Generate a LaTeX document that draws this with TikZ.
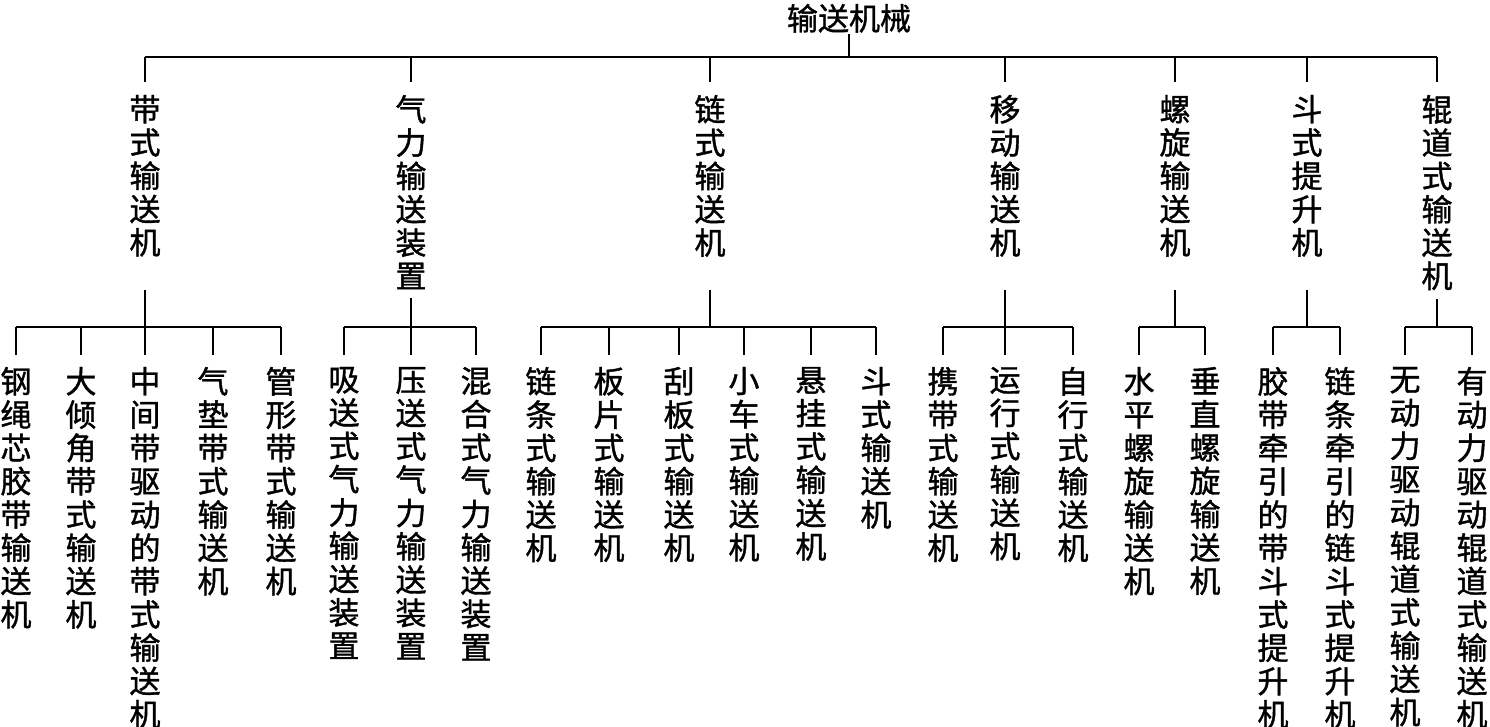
\documentclass[tikz,border=0pt]{standalone}
\usepackage{fontspec}
\newfontfamily\cjk[FakeBold=1.2]{Noto Sans CJK SC}
\usetikzlibrary{positioning}

\begin{document}
\begin{tikzpicture}[x=0.5pt, y=-0.5pt, line width=1pt,
    every node/.style={inner sep=0pt, align=center, font=\cjk\fontsize{15.5pt}{16.65pt}\selectfont},
    catnode/.style={anchor=north},
    subnode/.style={anchor=north}]
  \useasboundingbox (0,0) rectangle (1490,727);

  % root
  \node[anchor=north] (root) at (849,3) {输送机械};

  \coordinate (bus) at (0,57);
  \coordinate (stemtop) at (0,290);
  \coordinate (subbar) at (0,327);

  % main groups
  \node[catnode] (c1) at (145,94) {带\\式\\输\\送\\机};
  \node[catnode] (c2) at (411,94) {气\\力\\输\\送\\装\\置};
  \node[catnode] (c3) at (710,94) {链\\式\\输\\送\\机};
  \node[catnode] (c4) at (1005,94) {移\\动\\输\\送\\机};
  \node[catnode] (c5) at (1175,94) {螺\\旋\\输\\送\\机};
  \node[catnode] (c6) at (1307,94) {斗\\式\\提\\升\\机};
  \node[catnode] (c7) at (1437,94) {辊\\道\\式\\输\\送\\机};

  % belt
  \node[subnode] (s11) at (16,366) {钢\\绳\\芯\\胶\\带\\输\\送\\机};
  \node[subnode] (s12) at (81,366) {大\\倾\\角\\带\\式\\输\\送\\机};
  \node[subnode] (s13) at (145,366) {中\\间\\带\\驱\\动\\的\\带\\式\\输\\送\\机};
  \node[subnode] (s14) at (213,366) {气\\垫\\带\\式\\输\\送\\机};
  \node[subnode] (s15) at (281,366) {管\\形\\带\\式\\输\\送\\机};

  % pneumatic
  \node[subnode] (s21) at (344,366) {吸\\送\\式\\气\\力\\输\\送\\装\\置};
  \node[subnode] (s22) at (411,366) {压\\送\\式\\气\\力\\输\\送\\装\\置};
  \node[subnode] (s23) at (476,366) {混\\合\\式\\气\\力\\输\\送\\装\\置};

  % chain
  \node[subnode] (s31) at (541,366) {链\\条\\式\\输\\送\\机};
  \node[subnode] (s32) at (609,366) {板\\片\\式\\输\\送\\机};
  \node[subnode] (s33) at (679,366) {刮\\板\\式\\输\\送\\机};
  \node[subnode] (s34) at (744,366) {小\\车\\式\\输\\送\\机};
  \node[subnode] (s35) at (811,366) {悬\\挂\\式\\输\\送\\机};
  \node[subnode] (s36) at (876,366) {斗\\式\\输\\送\\机};

  % mobile
  \node[subnode] (s41) at (943,366) {携\\带\\式\\输\\送\\机};
  \node[subnode] (s42) at (1005,366) {运\\行\\式\\输\\送\\机};
  \node[subnode] (s43) at (1073,366) {自\\行\\式\\输\\送\\机};

  % screw
  \node[subnode] (s51) at (1139,366) {水\\平\\螺\\旋\\输\\送\\机};
  \node[subnode] (s52) at (1205,366) {垂\\直\\螺\\旋\\输\\送\\机};

  % bucket elevator
  \node[subnode] (s61) at (1273,366) {胶\\带\\牵\\引\\的\\带\\斗\\式\\提\\升\\机};
  \node[subnode] (s62) at (1340,366) {链\\条\\牵\\引\\的\\链\\斗\\式\\提\\升\\机};

  % roller
  \node[subnode] (s71) at (1405,366) {无\\动\\力\\驱\\动\\辊\\道\\式\\输\\送\\机};
  \node[subnode] (s72) at (1472,366) {有\\动\\力\\驱\\动\\辊\\道\\式\\输\\送\\机};

  % upper level
  \draw (root.south) -- (root |- bus);
  \draw (c1 |- bus) -- (c7 |- bus);
  \foreach \c in {c1,c2,c3,c4,c5,c6,c7}
    \draw (\c |- bus) -- ([yshift=6pt]\c.north);

  % lower level
  \foreach \c in {c1,c3,c4,c5,c6}
    \draw (\c |- stemtop) -- (\c |- subbar);
  \foreach \c in {c2,c7}
    \draw ([yshift=-4pt]\c.south) -- (\c |- subbar);

  \draw (s11 |- subbar) -- (s15 |- subbar);
  \draw (s21 |- subbar) -- (s23 |- subbar);
  \draw (s31 |- subbar) -- (s36 |- subbar);
  \draw (s41 |- subbar) -- (s43 |- subbar);
  \draw (s51 |- subbar) -- (s52 |- subbar);
  \draw (s61 |- subbar) -- (s62 |- subbar);
  \draw (s71 |- subbar) -- (s72 |- subbar);

  \foreach \s in {s11,s12,s13,s14,s15,s21,s22,s23,s31,s32,s33,s34,s35,s36,s41,s42,s43,s51,s52,s61,s62,s71,s72}
    \draw (\s |- subbar) -- ([yshift=5.5pt]\s.north);
\end{tikzpicture}
\end{document}
